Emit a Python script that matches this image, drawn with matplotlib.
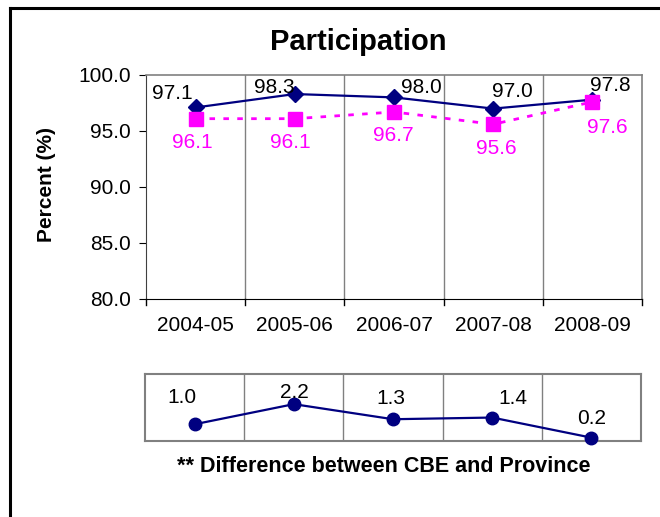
import matplotlib
matplotlib.use("Agg")
import matplotlib.pyplot as plt
from matplotlib.lines import Line2D

plt.rcParams['font.family'] = ['Liberation Sans', 'DejaVu Sans']

years = ["2004-05", "2005-06", "2006-07", "2007-08", "2008-09"]
cbe = [97.1, 98.3, 98.0, 97.0, 97.8]
province = [96.1, 96.1, 96.7, 95.6, 97.6]
diff = [1.0, 2.2, 1.3, 1.4, 0.2]
yticks = [80.0, 85.0, 90.0, 95.0, 100.0]

NAVY = "#000080"
MAG = "#FF00FF"
GRAY = "#808080"
FS = 15

W, H = 660, 517
fig = plt.figure(figsize=(W / 100, H / 100), dpi=100)

def fx(px):
    return px / W

def fy(py):
    return 1 - py / H

# outer border (left and top visible)
fig.add_artist(Line2D([fx(10), fx(10)], [fy(8), 0], color="black", lw=2.2, transform=fig.transFigure))
fig.add_artist(Line2D([fx(10), 1], [fy(8), fy(8)], color="black", lw=2.2, transform=fig.transFigure))

# main chart
ax = fig.add_axes([fx(146), fy(299), fx(642 - 146), (299 - 75) / H])
x = list(range(len(years)))
ax.plot(x, cbe, color=NAVY, lw=1.6, marker="D", ms=8.5, mfc=NAVY, mec=NAVY, zorder=3)
ax.plot(x, province, color=MAG, lw=2.0, ls=(0, (2, 3)), marker="s", ms=9.5, mfc=MAG, mec=MAG, zorder=4)
ax.set_xlim(-0.5, len(years) - 0.5)
ax.set_ylim(80, 100)
ax.set_yticks(yticks)
ax.set_yticklabels([f"{v:.1f}" for v in yticks], fontsize=FS)
ax.set_xticks(x)
ax.set_xticklabels(years, fontsize=FS)
ax.tick_params(axis="x", length=0, pad=12)
ax.tick_params(axis="y", length=5, direction="out", color="black", pad=6)
# boundary ticks / gridlines
for b in [i + 0.5 for i in range(len(years) - 1)]:
    ax.axvline(b, color=GRAY, lw=1.0, zorder=1)
for b in [i - 0.5 for i in range(len(years) + 1)]:
    ax.plot([b, b], [0, -0.025], transform=ax.get_xaxis_transform(), color="black", lw=1.0, clip_on=False)
for s in ["top", "right"]:
    ax.spines[s].set_color(GRAY)
    ax.spines[s].set_linewidth(1.2)
ax.spines["left"].set_color("#404040")
ax.spines["bottom"].set_color("black")

cbe_off = [(-23, 14), (-20, 7), (27, 10), (19, 17), (18, 14)]
prov_off = [(-3, -24), (-4, -24), (-1, -24), (3, -24), (15, -26)]
for i, v in enumerate(cbe):
    ax.annotate(f"{v:.1f}", (i, v), xytext=cbe_off[i], textcoords="offset pixels",
                ha="center", va="center", fontsize=FS, color="black", zorder=6)
for i, v in enumerate(province):
    ax.annotate(f"{v:.1f}", (i, v), xytext=prov_off[i], textcoords="offset pixels",
                ha="center", va="center", fontsize=FS, color=MAG, zorder=6)

fig.text(fx(358), fy(42), "Participation", ha="center", va="center", fontsize=21, fontweight="bold")
fig.text(fx(47), fy(185), "Percent (%)", ha="center", va="center", rotation=90, fontsize=FS, fontweight="bold")

# difference panel
ax2 = fig.add_axes([fx(145), fy(441), fx(641 - 145), (441 - 374) / H])
ax2.plot(x, diff, color=NAVY, lw=1.6, marker="o", ms=9, mfc=NAVY, mec=NAVY, zorder=4, clip_on=False)
ax2.set_xlim(-0.5, len(years) - 0.5)
ax2.set_ylim(0, 4)
ax2.set_xticks([])
ax2.set_yticks([])
for b in [i + 0.5 for i in range(len(years) - 1)]:
    ax2.axvline(b, color=GRAY, lw=1.0, zorder=1)
for s in ax2.spines.values():
    s.set_color(GRAY)
    s.set_linewidth(1.5)
diff_off = [(-13, 27), (1, 12), (-2, 21), (21, 19), (0, 19)]
for i, v in enumerate(diff):
    ax2.annotate(f"{v:.1f}", (i, v), xytext=diff_off[i], textcoords="offset pixels",
                 ha="center", va="center", fontsize=FS, color="black", zorder=6, annotation_clip=False)

fig.text(fx(384), fy(467), "** Difference between CBE and Province", ha="center", va="center",
         fontsize=15.5, fontweight="bold")

fig.savefig("out.png", dpi=100)
